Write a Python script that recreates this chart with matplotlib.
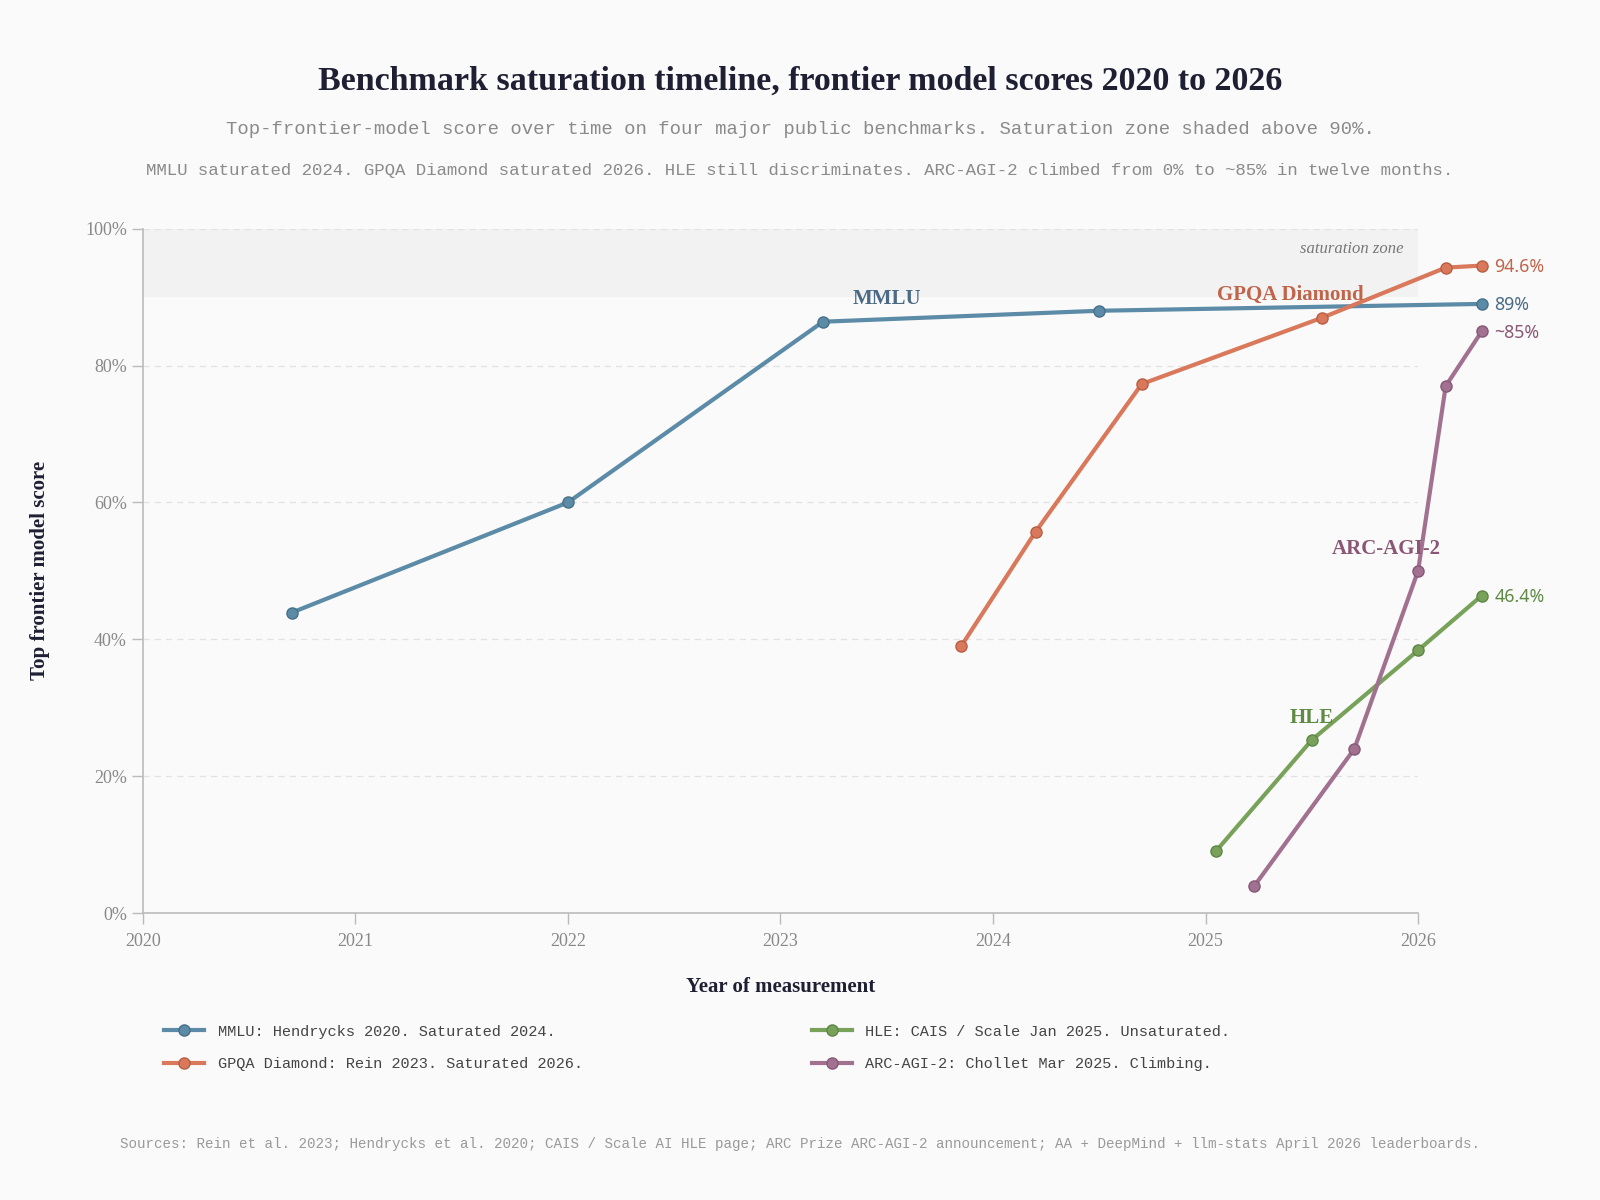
import matplotlib
matplotlib.use('Agg')
import matplotlib.pyplot as plt
from matplotlib.ticker import FuncFormatter

plt.rcParams['font.family'] = ['Liberation Serif', 'DejaVu Serif']

# data
mmlu_x = [2020.70, 2022.00, 2023.20, 2024.50, 2026.30]
mmlu_y = [43.9, 60.0, 86.4, 88.0, 89.0]

gpqa_x = [2023.85, 2024.20, 2024.70, 2025.55, 2026.13, 2026.30]
gpqa_y = [39.0, 55.7, 77.3, 87.0, 94.3, 94.6]

hle_x = [2025.05, 2025.50, 2026.00, 2026.30]
hle_y = [9.1, 25.3, 38.4, 46.4]

arc_x = [2025.23, 2025.70, 2026.00, 2026.13, 2026.30]
arc_y = [4.0, 24.0, 50.0, 77.0, 85.0]

series_names = ['MMLU', 'GPQA Diamond', 'HLE', 'ARC-AGI-2']
legend_labels = [
    'MMLU: Hendrycks 2020. Saturated 2024.',
    'GPQA Diamond: Rein 2023. Saturated 2026.',
    'HLE: CAIS / Scale Jan 2025. Unsaturated.',
    'ARC-AGI-2: Chollet Mar 2025. Climbing.',
]
end_labels = ['89%', '94.6%', '46.4%', '~85%']
name_pos = [(2023.50, 89.7), (2025.40, 90.3), (2025.50, 28.5), (2025.85, 53.2)]
year_ticks = [2020, 2021, 2022, 2023, 2024, 2025, 2026]
pct_ticks = [0, 20, 40, 60, 80, 100]

line_colors = ['#5B8BA6', '#D9785A', '#78A25A', '#A2718F']
edge_colors = ['#46708A', '#B85E42', '#5E8545', '#855877']
text_colors = ['#4A6A85', '#C0644A', '#5F8A45', '#8A5674']

bg = '#FAFAFA'
mono = ['Liberation Mono', 'DejaVu Sans Mono']

fig = plt.figure(figsize=(16, 12), dpi=100, facecolor=bg)
ax = fig.add_axes([0.0893, 0.239, 0.797, 0.5705])
ax.set_facecolor(bg)

ax.set_xlim(2020, 2026)
ax.set_ylim(0, 100)

# saturation zone
ax.axhspan(90, 100, color='#F2F2F2', zorder=0, lw=0)
ax.text(2025.93, 97.0, 'saturation zone', ha='right', va='center',
        fontsize=12, style='italic', color='#777777')

for t in pct_ticks[1:]:
    ax.axhline(t, color='#E2E2E2', lw=0.9, ls=(0, (5, 4)), zorder=0.5)

all_x = [mmlu_x, gpqa_x, hle_x, arc_x]
all_y = [mmlu_y, gpqa_y, hle_y, arc_y]
handles = []
for i in range(4):
    h, = ax.plot(all_x[i], all_y[i], color=line_colors[i], lw=3.0,
                 marker='o', markersize=8, markerfacecolor=line_colors[i],
                 markeredgecolor=edge_colors[i], markeredgewidth=1.0,
                 clip_on=False, zorder=3, label=legend_labels[i])
    handles.append(h)
    ax.annotate(end_labels[i], (all_x[i][-1], all_y[i][-1]), xytext=(9, -1),
                textcoords='offset points', ha='left', va='center',
                fontsize=12.8, fontweight='bold', color=text_colors[i],
                family=['Noto Sans', 'DejaVu Sans'], annotation_clip=False)
    ax.text(name_pos[i][0], name_pos[i][1], series_names[i], ha='center',
            va='center', fontsize=15, fontweight='bold', color=text_colors[i],
            zorder=4)

for s in ['top', 'right']:
    ax.spines[s].set_visible(False)
for s in ['left', 'bottom']:
    ax.spines[s].set_color('#BBBBBB')
    ax.spines[s].set_linewidth(1.2)

ax.set_xticks(year_ticks)
ax.set_xticklabels([str(y) for y in year_ticks])
ax.set_yticks(pct_ticks)
ax.yaxis.set_major_formatter(FuncFormatter(lambda v, p: f'{int(v)}%'))
ax.tick_params(colors='#BBBBBB', labelcolor='#888888', labelsize=13,
               length=8, width=1.0)
ax.tick_params(axis='x', pad=6)

ax.set_xlabel('Year of measurement', fontsize=15, fontweight='bold',
              color='#1F1F33', labelpad=20)
ax.set_ylabel('Top frontier model score', fontsize=15, fontweight='bold',
              color='#1F1F33', labelpad=25)

fig.text(0.5, 0.932, 'Benchmark saturation timeline, frontier model scores 2020 to 2026',
         ha='center', va='center', fontsize=24.5, fontweight='bold', color='#1F1F33')
fig.text(0.5, 0.892, 'Top-frontier-model score over time on four major public benchmarks. Saturation zone shaded above 90%.',
         ha='center', va='center', fontsize=13.6, color='#8A8A8A', family=mono)
fig.text(0.5, 0.858, 'MMLU saturated 2024. GPQA Diamond saturated 2026. HLE still discriminates. ARC-AGI-2 climbed from 0% to ~85% in twelve months.',
         ha='center', va='center', fontsize=12.5, color='#8A8A8A', family=mono)

leg = fig.legend(handles=handles, loc='upper left', bbox_to_anchor=(0.094, 0.1575),
                 ncol=2, frameon=False, handlelength=2.6, handletextpad=0.9,
                 columnspacing=15.0, labelspacing=1.2,
                 prop={'family': mono, 'size': 11})
for t in leg.get_texts():
    t.set_color('#444444')

fig.text(0.5, 0.047, 'Sources: Rein et al. 2023; Hendrycks et al. 2020; CAIS / Scale AI HLE page; ARC Prize ARC-AGI-2 announcement; AA + DeepMind + llm-stats April 2026 leaderboards.',
         ha='center', va='center', fontsize=10.3, color='#9A9A9A', family=mono)

fig.savefig('out.png', dpi=100, facecolor=bg)
